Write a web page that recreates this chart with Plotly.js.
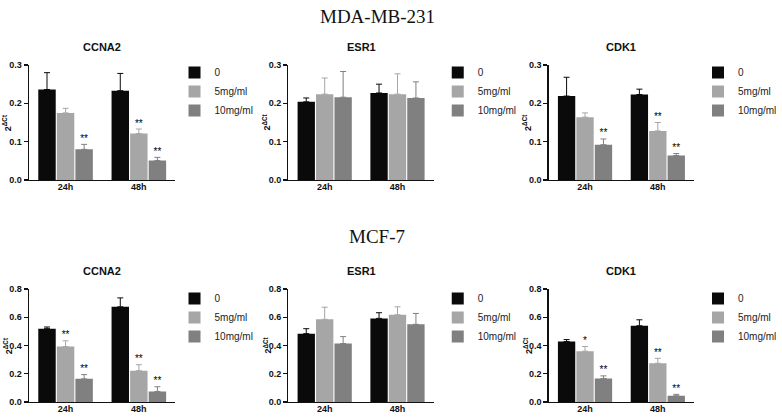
<!DOCTYPE html>
<html>
<head>
<meta charset="utf-8">
<script src="https://cdn.plot.ly/plotly-3.0.1.min.js"></script>
<style>html,body{margin:0;padding:0;background:#fff;}#chart{width:782px;height:417px;}</style>
</head>
<body>
<div id="chart"></div>
<script>
// ---- data ----
var categories = ['24h', '48h'];
var doses = ['0', '5mg/ml', '10mg/ml'];
var cellLines = ['MDA-MB-231', 'MCF-7'];
var genes = ['CCNA2', 'ESR1', 'CDK1'];

// rows: dose 0, 5mg/ml, 10mg/ml ; columns: 24h, 48h
var mda_CCNA2_mean = [[0.236, 0.233], [0.175, 0.121], [0.080, 0.051]];
var mda_CCNA2_err  = [[0.044, 0.045], [0.012, 0.012], [0.013, 0.008]];
var mda_CCNA2_sig  = [['', ''], ['', '**'], ['**', '**']];

var mda_ESR1_mean = [[0.204, 0.227], [0.224, 0.224], [0.216, 0.214]];
var mda_ESR1_err  = [[0.010, 0.023], [0.042, 0.053], [0.067, 0.042]];
var mda_ESR1_sig  = [['', ''], ['', ''], ['', '']];

var mda_CDK1_mean = [[0.219, 0.223], [0.164, 0.128], [0.092, 0.064]];
var mda_CDK1_err  = [[0.049, 0.014], [0.011, 0.022], [0.015, 0.005]];
var mda_CDK1_sig  = [['', ''], ['', '**'], ['**', '**']];

var mcf_CCNA2_mean = [[0.519, 0.674], [0.393, 0.222], [0.164, 0.075]];
var mcf_CCNA2_err  = [[0.012, 0.063], [0.040, 0.042], [0.030, 0.033]];
var mcf_CCNA2_sig  = [['', ''], ['**', '**'], ['**', '**']];

var mcf_ESR1_mean = [[0.484, 0.592], [0.585, 0.618], [0.414, 0.550]];
var mcf_ESR1_err  = [[0.035, 0.040], [0.086, 0.056], [0.049, 0.077]];
var mcf_ESR1_sig  = [['', ''], ['', ''], ['', '']];

var mcf_CDK1_mean = [[0.428, 0.540], [0.360, 0.274], [0.166, 0.044]];
var mcf_CDK1_err  = [[0.014, 0.042], [0.033, 0.035], [0.019, 0.010]];
var mcf_CDK1_sig  = [['', ''], ['*', '**'], ['**', '**']];

var topTicks = [0, 0.1, 0.2, 0.3];
var bottomTicks = [0, 0.2, 0.4, 0.6, 0.8];
var yLabel = '<b>2<sup>ΔCt</sup></b>';

// ---- build ----
var panels = [
  {mean: mda_CCNA2_mean, err: mda_CCNA2_err, sig: mda_CCNA2_sig, gene: genes[0], row: 0, col: 0},
  {mean: mda_ESR1_mean,  err: mda_ESR1_err,  sig: mda_ESR1_sig,  gene: genes[1], row: 0, col: 1},
  {mean: mda_CDK1_mean,  err: mda_CDK1_err,  sig: mda_CDK1_sig,  gene: genes[2], row: 0, col: 2},
  {mean: mcf_CCNA2_mean, err: mcf_CCNA2_err, sig: mcf_CCNA2_sig, gene: genes[0], row: 1, col: 0},
  {mean: mcf_ESR1_mean,  err: mcf_ESR1_err,  sig: mcf_ESR1_sig,  gene: genes[1], row: 1, col: 1},
  {mean: mcf_CDK1_mean,  err: mcf_CDK1_err,  sig: mcf_CDK1_sig,  gene: genes[2], row: 1, col: 2}
];
var colors = ['#0a0a0a', '#a6a6a6', '#808080'];

var W = 782, H = 417;
var xDom = [[30, 182], [299, 450], [569, 720]];
var yDom = [[180, 65], [402, 289]];
var legX = [181, 454, 724];
var legY = [58, 284];

function px(x) { return x / W; }
function py(y) { return 1 - y / H; }

var data = [];
var layout = {
  width: W, height: H,
  margin: {l: 0, r: 0, t: 0, b: 0},
  paper_bgcolor: '#fff', plot_bgcolor: '#fff',
  barmode: 'group', bargap: 0.24, bargroupgap: 0.06,
  scattermode: 'group', scattergap: 0.24,
  font: {family: 'Liberation Sans, Arial, sans-serif', color: '#111'},
  annotations: [],
  showlegend: true
};

var tickFont = {family: 'Liberation Sans, Arial, sans-serif', size: 9, weight: 'bold', color: '#111'};

panels.forEach(function (p, i) {
  var n = i + 1;
  var xa = 'x' + (n === 1 ? '' : n), ya = 'y' + (n === 1 ? '' : n);
  var xk = 'xaxis' + (n === 1 ? '' : n), yk = 'yaxis' + (n === 1 ? '' : n);
  var lk = 'legend' + (n === 1 ? '' : n);
  var ticks = p.row === 0 ? topTicks : bottomTicks;

  for (var d = 0; d < doses.length; d++) {
    data.push({
      type: 'bar', x: categories, y: p.mean[d], name: doses[d],
      xaxis: xa, yaxis: ya, legend: lk,
      offsetgroup: 'g' + d, alignmentgroup: 'a' + n,
      marker: {color: colors[d], line: {width: 0}},
      error_y: {type: 'data', symmetric: false, array: p.err[d], arrayminus: [0, 0],
                color: colors[d], thickness: 1, width: 3},
      hoverinfo: 'skip'
    });
  }
  for (var d2 = 0; d2 < doses.length; d2++) {
    var sigRow = p.sig[d2];
    var tops = p.mean[d2].map(function (v, k) { return sigRow[k] ? v + p.err[d2][k] : null; });
    data.push({
      type: 'scatter', mode: 'text', x: categories, y: tops, text: sigRow,
      textposition: 'top center', cliponaxis: false,
      textfont: {family: 'Liberation Sans, Arial, sans-serif', size: 10, color: '#000'},
      xaxis: xa, yaxis: ya, showlegend: false,
      offsetgroup: 'g' + d2, alignmentgroup: 'a' + n, hoverinfo: 'skip'
    });
  }

  layout[xk] = {
    domain: [px(xDom[p.col][0]), px(xDom[p.col][1])],
    anchor: ya, type: 'category',
    showline: true, linecolor: '#111', linewidth: 1.3,
    ticks: '', showgrid: false, zeroline: false,
    tickfont: tickFont, ticklabelstandoff: -2
  };
  layout[yk] = {
    domain: [py(yDom[p.row][0]), py(yDom[p.row][1])],
    anchor: xa, range: [0, ticks[ticks.length - 1]],
    tickvals: ticks, tickformat: '.1f',
    showline: true, linecolor: '#111', linewidth: 1.3,
    ticks: 'outside', ticklen: 4, tickwidth: 1.2, tickcolor: '#111',
    showgrid: false, zeroline: false, tickfont: tickFont
  };
  layout[lk] = {
    x: px(legX[p.col]), y: py(legY[p.row]), xanchor: 'left', yanchor: 'top',
    bgcolor: 'rgba(0,0,0,0)', borderwidth: 0,
    font: {family: 'Liberation Sans, Arial, sans-serif', size: 10, color: '#222'},
    itemwidth: 30, tracegroupgap: 0
  };
  // subplot title
  layout.annotations.push({
    xref: 'paper', yref: 'paper',
    x: px((xDom[p.col][0] + xDom[p.col][1]) / 2), y: py(yDom[p.row][1] - 18),
    xanchor: 'center', yanchor: 'middle', showarrow: false,
    text: '<b>' + p.gene + '</b>',
    font: {family: 'Liberation Sans, Arial, sans-serif', size: 11, color: '#111'}
  });
  // y-axis title
  layout.annotations.push({
    xref: 'paper', yref: 'paper',
    x: px(xDom[p.col][0] - 22), y: py((yDom[p.row][0] + yDom[p.row][1]) / 2),
    xanchor: 'center', yanchor: 'middle', showarrow: false, textangle: -90,
    text: yLabel,
    font: {family: 'Liberation Sans, Arial, sans-serif', size: 9, color: '#111'}
  });
});

layout.annotations.push({
  xref: 'paper', yref: 'paper', x: 0.5, y: py(17), xanchor: 'center', yanchor: 'middle',
  showarrow: false, text: cellLines[0],
  font: {family: 'Liberation Serif, Times New Roman, serif', size: 19, color: '#111'}
});
layout.annotations.push({
  xref: 'paper', yref: 'paper', x: 0.5, y: py(236), xanchor: 'center', yanchor: 'middle',
  showarrow: false, text: cellLines[1],
  font: {family: 'Liberation Serif, Times New Roman, serif', size: 19, color: '#111'}
});

Plotly.newPlot('chart', data, layout, {displayModeBar: false, staticPlot: true});
</script>
</body>
</html>
